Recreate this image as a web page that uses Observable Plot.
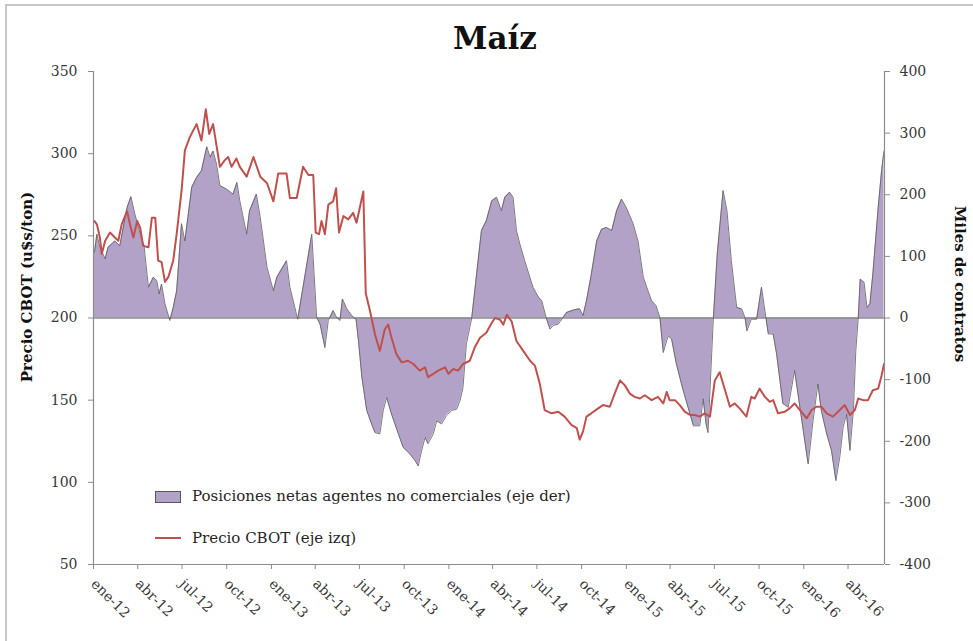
<!DOCTYPE html>
<html><head><meta charset="utf-8">
<script src="https://cdn.jsdelivr.net/npm/d3@7"></script>
<script src="https://cdn.jsdelivr.net/npm/@observablehq/plot@0.6"></script>
<style>
body{margin:0;background:#fff;}
#wrap{position:relative;width:973px;height:641px;overflow:hidden;font-family:"DejaVu Serif",serif;background:#fff;}
#frame{position:absolute;left:5px;top:4px;width:1000px;height:700px;border-left:2px solid #c8c8c8;border-top:2px solid #c8c8c8;}
#title{position:absolute;top:23px;left:395px;width:200px;text-align:center;font-size:31px;line-height:31px;font-weight:bold;color:#111;}
#chart{position:absolute;left:0;top:60px;}
.ylab{position:absolute;width:300px;text-align:center;font-size:15px;line-height:18px;font-weight:bold;color:#111;}
#ylabL{left:-123px;top:278px;transform:rotate(-90deg);}
#ylabR{left:810px;top:275px;transform:rotate(90deg);}
.leg{position:absolute;font-size:15px;line-height:18px;color:#262626;white-space:nowrap;}
#sw1{position:absolute;left:155px;top:491px;width:24px;height:10px;background:#b3a2c7;border:1px solid #595959;}
#sw2{position:absolute;left:155px;top:537px;width:26px;height:2px;background:#c0504d;}
</style></head>
<body>
<div id="wrap">
  <div id="frame"></div>
  <div id="title">Maíz</div>
  <div id="chart"></div>
  <div class="ylab" id="ylabL">Precio CBOT (u$s/ton)</div>
  <div class="ylab" id="ylabR">Miles de contratos</div>
  <div id="sw1"></div>
  <div class="leg" style="left:192px;top:487px;">Posiciones netas agentes no comerciales (eje der)</div>
  <div id="sw2"></div>
  <div class="leg" style="left:192px;top:529px;">Precio CBOT (eje izq)</div>
</div>
<script>
const xStart = "2012-01-01", xEnd = "2016-06-15";
const xTickDates = ["2012-01-01","2012-04-01","2012-07-01","2012-10-01","2013-01-01","2013-04-01","2013-07-01","2013-10-01","2014-01-01","2014-04-01","2014-07-01","2014-10-01","2015-01-01","2015-04-01","2015-07-01","2015-10-01","2016-01-01","2016-04-01"];
const xTickLabels = ["ene-12","abr-12","jul-12","oct-12","ene-13","abr-13","jul-13","oct-13","ene-14","abr-14","jul-14","oct-14","ene-15","abr-15","jul-15","oct-15","ene-16","abr-16"];
const leftTicks = [50,100,150,200,250,300,350];
const rightTicks = [-400,-300,-200,-100,0,100,200,300,400];

// Precio CBOT (u$s/ton), eje izquierdo
const priceDates = ["2012-01-03","2012-01-08","2012-01-14","2012-01-18","2012-01-25","2012-02-04","2012-02-14","2012-02-21","2012-02-28","2012-03-10","2012-03-16","2012-03-23","2012-03-31","2012-04-06","2012-04-12","2012-04-23","2012-04-30","2012-05-07","2012-05-13","2012-05-20","2012-05-27","2012-06-03","2012-06-13","2012-06-20","2012-06-30","2012-07-07","2012-07-17","2012-07-24","2012-07-31","2012-08-10","2012-08-19","2012-08-26","2012-09-03","2012-09-17","2012-09-27","2012-10-04","2012-10-11","2012-10-21","2012-10-28","2012-11-11","2012-11-25","2012-12-09","2012-12-23","2013-01-05","2013-01-15","2013-02-01","2013-02-08","2013-02-22","2013-03-07","2013-03-18","2013-03-28","2013-04-02","2013-04-09","2013-04-14","2013-04-21","2013-04-28","2013-05-08","2013-05-14","2013-05-20","2013-05-29","2013-06-08","2013-06-18","2013-06-25","2013-07-09","2013-07-14","2013-07-23","2013-08-02","2013-08-12","2013-08-22","2013-08-29","2013-09-05","2013-09-15","2013-09-26","2013-10-09","2013-10-20","2013-11-02","2013-11-13","2013-11-19","2013-11-30","2013-12-10","2013-12-24","2013-12-31","2014-01-10","2014-01-20","2014-01-30","2014-02-13","2014-02-23","2014-03-06","2014-03-19","2014-03-30","2014-04-06","2014-04-16","2014-04-23","2014-04-30","2014-05-10","2014-05-20","2014-06-03","2014-06-17","2014-06-27","2014-07-07","2014-07-17","2014-07-31","2014-08-14","2014-08-27","2014-09-10","2014-09-21","2014-09-27","2014-10-04","2014-10-11","2014-10-21","2014-11-04","2014-11-14","2014-11-28","2014-12-08","2014-12-19","2014-12-29","2015-01-08","2015-01-18","2015-01-29","2015-02-08","2015-02-22","2015-03-07","2015-03-18","2015-03-25","2015-03-31","2015-04-11","2015-04-21","2015-05-01","2015-05-12","2015-05-22","2015-06-01","2015-06-11","2015-06-22","2015-07-02","2015-07-12","2015-07-23","2015-08-02","2015-08-12","2015-08-22","2015-09-05","2015-09-15","2015-09-22","2015-10-02","2015-10-13","2015-10-23","2015-10-30","2015-11-09","2015-11-23","2015-12-03","2015-12-13","2015-12-24","2016-01-07","2016-01-17","2016-01-27","2016-02-06","2016-02-17","2016-03-01","2016-03-15","2016-03-25","2016-04-05","2016-04-15","2016-04-22","2016-05-02","2016-05-12","2016-05-22","2016-06-02","2016-06-09","2016-06-14"];
const priceValues = [259,257,249,239,247,252,249,247,257,265,257,249,259,255,244,243,261,261,235,234,222,225,235,251,277,302,310,314,318,308,327,312,318,292,296,298,292,297,292,286,298,286,282,271,288,288,273,273,292,287,287,252,251,259,251,269,271,279,252,262,260,264,258,277,215,204,190,180,193,196,188,178,173,174,172,168,170,164,166,168,170,166,169,168,172,174,182,188,191,197,200,199,196,202,198,186,180,174,171,160,144,142,143,140,135,133,126,131,140,142,145,147,146,154,162,159,154,152,151,153,150,152,148,155,150,150,147,143,141,141,140,142,140,162,167,156,146,148,145,140,152,151,157,152,149,150,142,143,145,148,144,139,144,146,146,142,140,144,147,141,144,151,150,150,156,157,165,172];

// Posiciones netas agentes no comerciales (miles de contratos), eje derecho
const netDates = ["2012-01-03","2012-01-08","2012-01-14","2012-01-25","2012-01-31","2012-02-14","2012-02-24","2012-03-06","2012-03-10","2012-03-18","2012-03-26","2012-04-06","2012-04-14","2012-04-23","2012-05-03","2012-05-10","2012-05-15","2012-05-20","2012-05-27","2012-06-06","2012-06-13","2012-06-20","2012-06-30","2012-07-07","2012-07-21","2012-07-31","2012-08-10","2012-08-21","2012-08-28","2012-09-03","2012-09-10","2012-09-17","2012-10-01","2012-10-14","2012-10-22","2012-10-28","2012-11-11","2012-11-17","2012-12-01","2012-12-09","2012-12-23","2013-01-05","2013-01-12","2013-02-01","2013-02-08","2013-02-24","2013-03-07","2013-03-25","2013-04-04","2013-04-11","2013-04-21","2013-04-28","2013-05-08","2013-05-15","2013-05-22","2013-05-27","2013-06-05","2013-06-15","2013-06-24","2013-06-29","2013-07-06","2013-07-16","2013-07-26","2013-08-02","2013-08-12","2013-08-19","2013-08-26","2013-09-05","2013-09-19","2013-09-29","2013-10-13","2013-10-23","2013-10-30","2013-11-06","2013-11-13","2013-11-19","2013-11-30","2013-12-07","2013-12-17","2013-12-27","2014-01-07","2014-01-17","2014-01-24","2014-01-30","2014-02-06","2014-02-17","2014-02-27","2014-03-09","2014-03-19","2014-03-30","2014-04-09","2014-04-19","2014-04-26","2014-05-06","2014-05-13","2014-05-20","2014-05-27","2014-06-06","2014-06-23","2014-07-04","2014-07-11","2014-07-21","2014-07-28","2014-08-04","2014-08-14","2014-08-24","2014-08-31","2014-09-14","2014-09-27","2014-10-04","2014-10-11","2014-10-21","2014-11-01","2014-11-11","2014-11-21","2014-12-02","2014-12-12","2014-12-22","2015-01-01","2015-01-15","2015-01-25","2015-02-05","2015-02-12","2015-02-22","2015-03-03","2015-03-11","2015-03-18","2015-03-28","2015-04-04","2015-04-14","2015-04-28","2015-05-12","2015-05-19","2015-06-01","2015-06-08","2015-06-14","2015-06-18","2015-06-29","2015-07-07","2015-07-19","2015-07-27","2015-08-05","2015-08-16","2015-08-26","2015-09-02","2015-09-06","2015-09-15","2015-09-26","2015-10-06","2015-10-15","2015-10-20","2015-10-30","2015-11-06","2015-11-13","2015-11-19","2015-11-30","2015-12-13","2015-12-20","2015-12-31","2016-01-10","2016-01-20","2016-01-30","2016-02-06","2016-02-17","2016-02-27","2016-03-07","2016-03-15","2016-03-22","2016-03-29","2016-04-05","2016-04-12","2016-04-17","2016-04-22","2016-04-26","2016-05-04","2016-05-10","2016-05-16","2016-05-22","2016-06-02","2016-06-09","2016-06-14"];
const netValues = [107,136,115,96,115,125,117,163,179,197,169,136,117,50,66,61,39,55,23,-4,17,44,153,125,212,228,239,278,261,271,250,215,209,201,220,190,136,174,201,163,82,44,66,93,50,-2,50,136,1,-10,-48,-4,12,1,-4,31,15,4,-2,-37,-96,-150,-172,-186,-188,-150,-129,-156,-188,-210,-221,-231,-240,-215,-194,-204,-188,-167,-172,-158,-150,-148,-134,-113,-42,0,71,142,158,190,196,174,196,204,196,142,120,93,50,34,28,-2,-18,-12,-10,1,9,13,15,4,28,71,125,144,147,142,174,193,179,153,125,66,50,28,20,1,-56,-29,-34,-75,-118,-156,-175,-175,-131,-172,-186,0,104,207,174,93,17,15,1,-21,-2,-2,50,1,-26,-26,-58,-102,-139,-145,-85,-123,-183,-237,-167,-107,-150,-188,-215,-264,-226,-177,-156,-215,-150,-53,0,63,58,17,23,71,179,239,271];

// dual axis: right axis (net, -400..400) mapped onto left axis (price, 50..350)
const baseline = 200, k = 150 / 400;
const toLeft = v => baseline + v * k;

const priceData = priceDates.map((d, i) => ({date: new Date(d), value: priceValues[i]}));
const netData = netDates.map((d, i) => ({date: new Date(d), value: toLeft(netValues[i])}));
const labelMap = new Map(xTickDates.map((d, i) => [+new Date(d), xTickLabels[i]]));
const xDomain = [new Date(xStart), new Date(xEnd)];
const yDomain = [leftTicks[0], leftTicks[leftTicks.length - 1]];
const axisColor = "#8c8c8c";

const chart = Plot.plot({
  width: 973, height: 581,
  marginTop: 11, marginBottom: 77, marginLeft: 93, marginRight: 89,
  x: {type: "utc", domain: xDomain},
  y: {domain: yDomain},
  style: {fontFamily: "DejaVu Serif", fontSize: "14px", background: "transparent", overflow: "visible"},
  marks: [
    Plot.areaY(netData, {x: "date", y1: baseline, y2: "value", fill: "#b3a2c7"}),
    Plot.ruleY([baseline], {stroke: "#8a8a8a", strokeWidth: 1.5}),
    Plot.lineY(netData, {x: "date", y: "value", stroke: "#5a5a5a", strokeWidth: 0.8}),
    Plot.lineY(priceData, {x: "date", y: "value", stroke: "#c0504d", strokeWidth: 2}),
    Plot.ruleX(xDomain, {stroke: axisColor, strokeWidth: 1.2}),
    Plot.ruleY([yDomain[0]], {stroke: axisColor, strokeWidth: 1.2}),
    Plot.axisY({anchor: "left", ticks: leftTicks, tickSize: 5, tickPadding: 11,
      stroke: axisColor, fill: "#383838", fontSize: 14, label: null}),
    Plot.axisY({anchor: "right", ticks: rightTicks.map(toLeft), tickSize: 5, tickPadding: 10,
      tickFormat: v => String(Math.round((v - baseline) / k)),
      stroke: axisColor, fill: "#383838", fontSize: 14, label: null}),
    Plot.axisX({ticks: xTickDates.map(d => new Date(d)), tickFormat: d => labelMap.get(+d),
      tickRotate: 45, tickSize: 5, tickPadding: 12,
      stroke: axisColor, fill: "#383838", fontSize: 14, label: null})
  ]
});
document.getElementById("chart").appendChild(chart);
</script>
</body></html>
